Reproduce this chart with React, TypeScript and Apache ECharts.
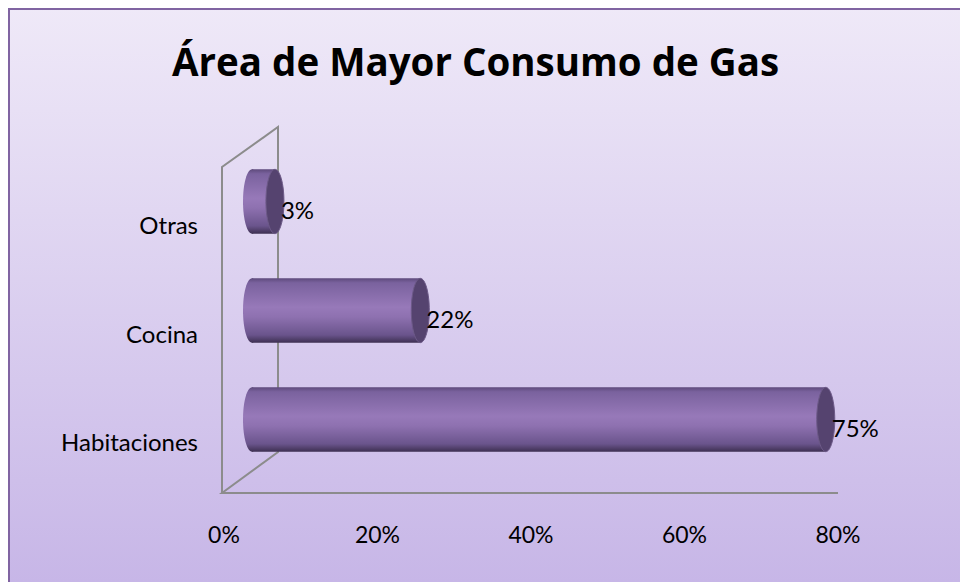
import React, { useEffect, useRef } from "react";
import * as echarts from "echarts";

const titleText = "Área de Mayor Consumo de Gas";
const categories = ["Habitaciones", "Cocina", "Otras"];
const values = [75, 22, 3];
const axisMin = 0;
const axisMax = 80;
const axisInterval = 20;

const FONT = "Lato, 'Open Sans', sans-serif";
const TITLE_FONT = "'Open Sans', Lato, sans-serif";

export default function App() {
  const ref = useRef<HTMLDivElement>(null);

  useEffect(() => {
    if (!ref.current) return;
    const chart = echarts.init(ref.current, undefined, { renderer: "svg" });

    const bodyGradient = {
      type: "linear",
      x: 0,
      y: 0,
      x2: 0,
      y2: 1,
      colorStops: [
        { offset: 0, color: "#5e4a7c" },
        { offset: 0.07, color: "#7a629e" },
        { offset: 0.45, color: "#9779b9" },
        { offset: 0.6, color: "#8e71b0" },
        { offset: 0.88, color: "#6a548c" },
        { offset: 1, color: "#3e3052" },
      ],
    };

    const option: any = {
      animation: false,
      backgroundColor: {
        type: "linear",
        x: 0,
        y: 0,
        x2: 0,
        y2: 1,
        colorStops: [
          { offset: 0, color: "#efe9f8" },
          { offset: 1, color: "#c7b6e7" },
        ],
      },
      title: {
        text: titleText,
        left: 159,
        top: 28,
        textStyle: {
          fontSize: 38.5,
          fontWeight: "bold",
          fontFamily: TITLE_FONT,
          color: "#000",
        },
      },
      graphic: [
        {
          type: "polyline",
          z: 0,
          shape: {
            points: [
              [1, 600],
              [1, 1],
              [1000, 1],
            ],
          },
          style: { fill: "none", stroke: "#8064a2", lineWidth: 2 },
        },
        {
          type: "polyline",
          z: 1,
          shape: {
            points: [
              [214, 485],
              [214, 159],
              [270, 119],
              [270, 444],
              [214, 485],
              [830, 485],
            ],
          },
          style: { fill: "none", stroke: "#8c8c8c", lineWidth: 2 },
        },
      ],
      grid: [
        { left: 244, top: 139, width: 612, height: 327 },
        { left: 216, top: 162, width: 614, height: 326 },
      ],
      xAxis: [
        { gridIndex: 0, type: "value", min: axisMin, max: axisMax, show: false },
        {
          gridIndex: 1,
          type: "value",
          min: axisMin,
          max: axisMax,
          interval: axisInterval,
          axisLine: { show: false },
          axisTick: { show: false },
          splitLine: { show: false },
          axisLabel: {
            formatter: "{value}%",
            fontSize: 23,
            fontFamily: FONT,
            color: "#000",
            margin: 26,
          },
        },
      ],
      yAxis: [
        { gridIndex: 0, type: "category", data: categories, show: false },
        {
          gridIndex: 1,
          type: "category",
          data: categories,
          axisLine: { show: false },
          axisTick: { show: false },
          splitLine: { show: false },
          axisLabel: {
            fontSize: 24,
            fontFamily: FONT,
            color: "#000",
            margin: 26,
          },
        },
      ],
      series: [
        {
          type: "custom",
          xAxisIndex: 0,
          yAxisIndex: 0,
          z: 5,
          data: values.map((v, i) => [v, i]),
          encode: { x: 0, y: 1 },
          renderItem: (params: any, api: any) => {
            const v = api.value(0);
            const c = api.value(1);
            const p0 = api.coord([0, c]);
            const p1 = api.coord([v, c]);
            const band = api.size([0, 1])[1];
            const h = band * 0.59;
            const rx = 9;
            const cy = p0[1];
            return {
              type: "group",
              children: [
                {
                  type: "ellipse",
                  shape: { cx: p0[0], cy, rx, ry: h / 2 },
                  style: { fill: bodyGradient },
                },
                {
                  type: "rect",
                  shape: { x: p0[0], y: cy - h / 2, width: p1[0] - p0[0], height: h },
                  style: { fill: bodyGradient },
                },
                {
                  type: "ellipse",
                  shape: { cx: p1[0], cy, rx, ry: h / 2 },
                  style: { fill: "#55436f", stroke: "#6d5a88", lineWidth: 1 },
                },
                {
                  type: "text",
                  style: {
                    text: v + "%",
                    x: p1[0] + 6,
                    y: cy + 8,
                    fill: "#000",
                    fontSize: 24,
                    fontFamily: FONT,
                    align: "left",
                    verticalAlign: "middle",
                  },
                },
              ],
            };
          },
        },
      ],
    };

    chart.setOption(option);
    return () => chart.dispose();
  }, []);

  return (
    <div
      ref={ref}
      style={{ position: "fixed", left: 8, top: 8, width: 952, height: 574 }}
    />
  );
}
